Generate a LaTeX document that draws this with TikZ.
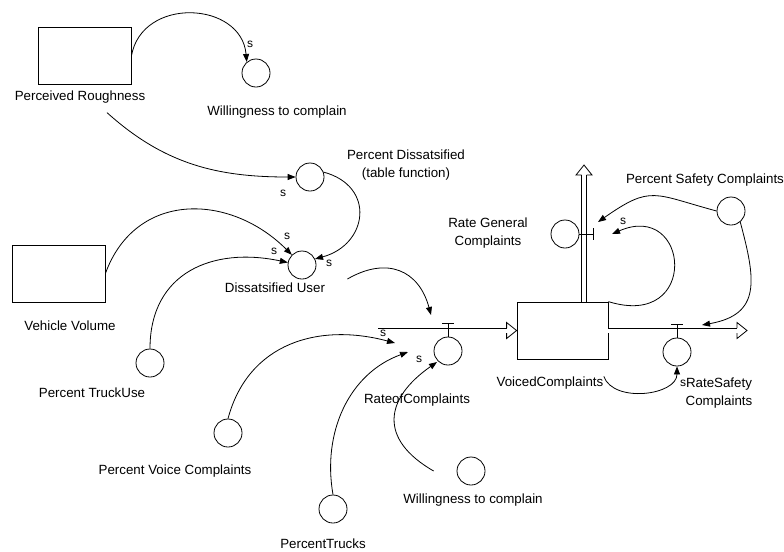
\documentclass[tikz,border=0pt]{standalone}
\usepackage{fontspec}
\setmainfont{Liberation Sans}
\usetikzlibrary{arrows.meta}

\begin{document}
\begin{tikzpicture}[x=0.75pt, y=-0.75pt, line width=0.6pt,
  every node/.style={font=\fontsize{10}{14}\selectfont, inner sep=0pt, align=center},
  aux/.style={circle, draw, minimum size=21pt},
  stock/.style={rectangle, draw, minimum width=69.75pt, minimum height=42.75pt},
  link/.style={-{Triangle[length=6pt,width=4.5pt]}},
  pipe/.style={double, double distance=3pt},
  sign/.style={font=\fontsize{9}{9}\selectfont}]
  \useasboundingbox (0,0) rectangle (784,551);
  \path (84.5,56) node[stock] (PR){} (80,97) node (PRl){Perceived Roughness}
    (256,73) node[aux] (WCa){} (277,112) node (WCal){Willingness to complain}
    (310,177) node[aux] (PD){} (406,165) node (PDl){Percent Dissatsified\\(table function)}
    (58.5,273.5) node[stock] (VV){} (70,326) node (VVl){Vehicle Volume}
    (302,265) node[aux] (DU){} (275,288) node (DUl){Dissatsified User}
    (150,363) node[aux] (PTU){} (92,393) node (PTUl){Percent TruckUse}
    (448,351) node[aux] (RoC){} (417,400) node (RoCl){RateofComplaints}
    (228,433) node[aux] (PVC){} (175,471) node (PVCl){Percent Voice Complaints}
    (333,509) node[aux] (PT){} (323,544) node (PTl){PercentTrucks}
    (471,471) node[aux] (WCb){} (473,500) node (WCbl){Willingness to complain}
    (562.5,330.5) node[stock, minimum width=68.25pt] (VC){} (550,383) node (VCl){VoicedComplaints}
    (565,234) node[aux] (RGC){} (488,233) node (RGCl){Rate General\\Complaints}
    (731,211) node[aux] (PSC){} (705,180) node (PSCl){Percent Safety Complaints}
    (677,352) node[aux] (RSC){} (719,393) node (RSCl){RateSafety\\Complaints};
  % free ends
  \coordinate (inS) at (378,330.5);
  \coordinate (outR) at (747,330.5);
  \coordinate (upS) at ([shift={(21.5,0)}]VC.north);
  \coordinate (outU) at (584,165);
  \coordinate (inA) at (395,343);
  \coordinate (inB) at (408,352);
  \coordinate (inC) at (437,362);
  \coordinate (inD) at (431,315);
  \coordinate (rgA) at (598,222);
  \coordinate (rgB) at (612,234);
  \coordinate (rsA) at (702,325);
  % flows
  \draw[pipe] (inS) -- ([shift={(-10,0)}]VC.west);
  \draw ([shift={(-10,-2.5)}]VC.west) -- ++(0,-5.5) -- (VC.west) -- ++(-10,8) -- ++(0,-5.5);
  \draw[pipe] (VC.east) -- ([shift={(-10,0)}]outR);
  \draw ([shift={(-10,-2.5)}]outR) -- ++(0,-5.5) -- (outR) -- ++(-10,8) -- ++(0,-5.5);
  \draw[pipe] (upS) -- ([shift={(0,10)}]outU);
  \draw ([shift={(-2.5,10)}]outU) -- ++(-5.5,0) -- (outU) -- ++(8,10) -- ++(-5.5,0);
  % valves
  \draw (RoC.north) -- ++(0,-13) ++(-6,0) -- ++(12,0);
  \draw (RSC.north) -- ++(0,-13) ++(-6,0) -- ++(12,0);
  \draw (RGC.east) -- ++(14,0) ++(0,-6) -- ++(0,12);
  % connectors
  \draw[link] (PR.east) to[out=80, in=95, looseness=1.35] (WCa.130);
  \draw[link] ([shift={(27,9)}]PRl.south) to[out=-42, in=180] (PD.west);
  \draw[link] (VV.east) to[out=70, in=135, looseness=1.2] (DU.135);
  \draw[link] (PTU.north) to[out=90, in=168, looseness=1.2] (DU.170);
  \draw[link] (PD.20) to[out=-15, in=15, looseness=1.6] (DU.25);
  \draw[link] ([shift={(22,-9)}]DUl.east) to[out=30, in=105, looseness=1.3] (inD);
  \draw[link] (PVC.north) to[out=75, in=165, looseness=1.1] (inA);
  \draw[link] (PT.north) to[out=100, in=200] (inB);
  \draw[link] ([shift={(-23,0)}]WCb.west) to[out=150, in=215, looseness=1.5] (inC);
  \draw[link] (VC.north east) .. controls (700,330) and (690,200) .. (rgB);
  \draw[link] (PSC.west) to[out=165, in=35, looseness=1.4] (rgA);
  \draw[link] (PSC.-50) to[out=-75, in=10, looseness=1.4] (rsA);
  \draw[link] (VCl.north east) to[out=-70, in=-90] (RSC.south);
  % signs
  \path (250,44) node[sign] (sa){s} (283,193) node[sign] (sb){s}
    (287,236) node[sign] (sc){s} (274,251) node[sign] (sd){s}
    (329,263) node[sign] (se){s} (383,333) node[sign] (sf){s}
    (419,359) node[sign] (sg){s} (623,221) node[sign] (sh){s}
    (683,383) node[sign] (si){s};
\end{tikzpicture}
\end{document}
